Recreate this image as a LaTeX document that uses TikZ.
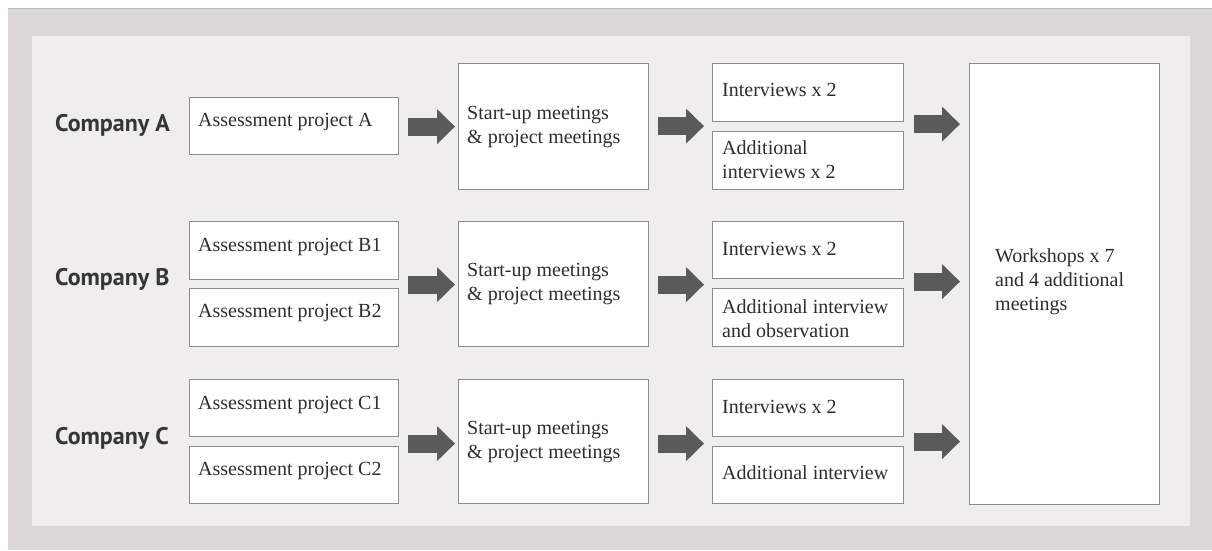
\documentclass[tikz,border=0pt]{standalone}
\usepackage{fontspec}
\setmainfont{Liberation Serif}
\newfontfamily\labelfont{PT Sans}
\usetikzlibrary{arrows.meta,calc}
\definecolor{outerbg}{HTML}{DCD8D8}
\definecolor{innerbg}{HTML}{EFEDEE}
\definecolor{boxline}{HTML}{8C8C8C}
\definecolor{arrowgray}{HTML}{5A5A5A}
\definecolor{txtgray}{HTML}{2E2E2E}
\definecolor{lblgray}{HTML}{363636}
\tikzset{
  box/.style={draw=boxline, fill=white, line width=1.2pt, inner sep=0pt, anchor=north west},
  txt/.style={inner sep=0pt, text=txtgray, font=\fontsize{20}{24}\selectfont, align=left},
  company/.style={inner sep=0pt, anchor=base west, text=lblgray, font=\labelfont\bfseries\fontsize{24}{28}\selectfont},
  bigarrow/.style={draw=arrowgray, line width=18pt, line cap=butt, -{Triangle[length=18pt,width=34pt]}}
}
\begin{document}
\begin{tikzpicture}[x=1pt,y=-1pt]
\useasboundingbox (0,0) rectangle (1212,550);
\fill[white] (0,0) rectangle (1212,550);
\fill[outerbg] (8,8) rectangle (1212,550);
\draw[boxline!60, line width=0.8pt] (8,8.4) -- (1212,8.4);
\fill[innerbg] (32,36) rectangle (1190,526);

% company labels
\node[company] (ca) at (55,131.5) {Company A};
\node[company] (cb) at (55,285) {Company B};
\node[company] (cc) at (55,444.5) {Company C};

% column 1
\node[box, minimum width=209, minimum height=57] (a1) at (189,97) {};
\node[box, minimum width=209, minimum height=58] (b1) at (189,221) {};
\node[box, minimum width=209, minimum height=58] (b2) at (189,288) {};
\node[box, minimum width=209, minimum height=57] (c1) at (189,379) {};
\node[box, minimum width=209, minimum height=57] (c2) at (189,446) {};
\node[txt, anchor=base west] (ta1) at ($(a1.north west)+(9,29)$) {Assessment project A};
\node[txt, anchor=base west] (tb1) at ($(b1.north west)+(9,30)$) {Assessment project B1};
\node[txt, anchor=base west] (tb2) at ($(b2.north west)+(9,29)$) {Assessment project B2};
\node[txt, anchor=base west] (tc1) at ($(c1.north west)+(9,30)$) {Assessment project C1};
\node[txt, anchor=base west] (tc2) at ($(c2.north west)+(9,29)$) {Assessment project C2};

% column 2
\node[box, minimum width=190, minimum height=126] (sa) at (458,63) {};
\node[box, minimum width=190, minimum height=125] (sb) at (458,221) {};
\node[box, minimum width=190, minimum height=124] (sc) at (458,379) {};
\node[txt, anchor=west] (tsa) at ($(sa.west)+(9,0)$) {Start-up meetings\\\& project meetings};
\node[txt, anchor=west] (tsb) at ($(sb.west)+(9,0)$) {Start-up meetings\\\& project meetings};
\node[txt, anchor=west] (tsc) at ($(sc.west)+(9,0)$) {Start-up meetings\\\& project meetings};

% column 3
\node[box, minimum width=191, minimum height=58] (ia1) at (712,63) {};
\node[box, minimum width=191, minimum height=58] (ia2) at (712,131) {};
\node[box, minimum width=191, minimum height=57] (ib1) at (712,221) {};
\node[box, minimum width=191, minimum height=58] (ib2) at (712,288) {};
\node[box, minimum width=191, minimum height=57] (ic1) at (712,379) {};
\node[box, minimum width=191, minimum height=57] (ic2) at (712,446) {};
\node[txt, anchor=base west] (tia1) at ($(ia1.north west)+(10,33)$) {Interviews x 2};
\node[txt, anchor=base west] (tia2) at ($(ia2.north west)+(10,47.5)$) {Additional\\interviews x 2};
\node[txt, anchor=base west] (tib1) at ($(ib1.north west)+(10,34)$) {Interviews x 2};
\node[txt, anchor=base west] (tib2) at ($(ib2.north west)+(10,49)$) {Additional interview\\and observation};
\node[txt, anchor=base west] (tic1) at ($(ic1.north west)+(10,34)$) {Interviews x 2};
\node[txt, anchor=base west] (tic2) at ($(ic2.north west)+(10,33)$) {Additional interview};

% column 4
\node[box, minimum width=190, minimum height=441] (w) at (969,63) {};
\node[txt, anchor=west] (tw) at ($(w.west)+(26,-2)$) {Workshops x 7\\and 4 additional\\meetings};

% arrows column 1 -> 2
\draw[bigarrow] ($(a1.east |- sa.west)+(9,0)$) -- ($(sa.west)+(-3,0)$);
\draw[bigarrow] ($(b1.east |- sb.west)+(9,0.5)$) -- ($(sb.west)+(-3,0.5)$);
\draw[bigarrow] ($(c1.east |- sc.west)+(9,2)$) -- ($(sc.west)+(-3,2)$);
% arrows column 2 -> 3
\draw[bigarrow] ($(sa.east)+(9,-0.5)$) -- ($(sa.east -| ia1.west)+(-8,-0.5)$);
\draw[bigarrow] ($(sb.east)+(9,0.5)$) -- ($(sb.east -| ib1.west)+(-8,0.5)$);
\draw[bigarrow] ($(sc.east)+(9,2)$) -- ($(sc.east -| ic1.west)+(-8,2)$);
% arrows column 3 -> 4
\draw[bigarrow] ($(sa.east -| ia1.east)+(10,-2.5)$) -- ($(sa.east -| w.west)+(-9,-2.5)$);
\draw[bigarrow] ($(sb.east -| ib1.east)+(10,-2.5)$) -- ($(sb.east -| w.west)+(-9,-2.5)$);
\draw[bigarrow] ($(sc.east -| ic1.east)+(10,0)$) -- ($(sc.east -| w.west)+(-9,0)$);
\end{tikzpicture}
\end{document}
